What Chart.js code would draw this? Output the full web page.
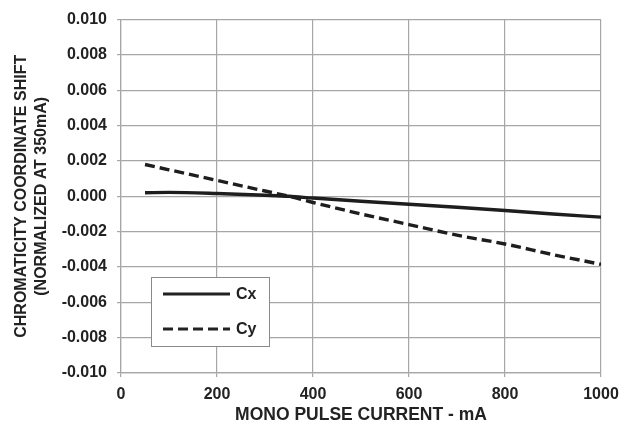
<!DOCTYPE html>
<html>
<head>
<meta charset="utf-8">
<script src="https://cdn.jsdelivr.net/npm/chart.js@4/dist/chart.umd.min.js"></script>
<style>
  html, body { margin: 0; padding: 0; background: #fff; }
  #wrap { width: 630px; height: 430px; }
</style>
</head>
<body>
<div id="wrap"><canvas id="chart" width="630" height="430"></canvas></div>
<script>
// values
var currents = [50, 100, 200, 300, 350, 400, 500, 600, 700, 800, 900, 1000];
var cxShift = [0.0002, 0.00022, 0.00016, 0.00006, 0.0, -0.0001, -0.00028, -0.00045, -0.00062, -0.0008, -0.001, -0.00118];
var cyShift = [0.0018, 0.0015, 0.0009, 0.0003, 0.0, -0.00035, -0.001, -0.0016, -0.0022, -0.0027, -0.0033, -0.00385];
var seriesNames = ['Cx', 'Cy'];

var FONT = '"Liberation Sans", Arial, sans-serif';

function points(ys) {
    var out = [];
    for (var i = 0; i < currents.length; i++) out.push({x: currents[i], y: ys[i]});
    return out;
}

// legend sits inside the plot, lower left
var legendBox = {
    id: 'legendBox',
    afterDatasetsDraw: function(chart) {
        var ctx = chart.ctx;
        var x0 = 151, y0 = 277, w = 118, h = 69;
        ctx.save();
        ctx.fillStyle = '#fff';
        ctx.fillRect(x0, y0, w, h);
        ctx.strokeStyle = '#8a8a8a';
        ctx.lineWidth = 1;
        ctx.strokeRect(x0 + 0.5, y0 + 0.5, w, h);
        ctx.font = 'bold 16px ' + FONT;
        ctx.textBaseline = 'middle';
        ctx.fillStyle = '#222';
        chart.data.datasets.forEach(function(ds, i) {
            var ly = y0 + 17 + i * 35;
            ctx.strokeStyle = '#222';
            ctx.lineWidth = 3.2;
            ctx.setLineDash(ds.borderDash || []);
            ctx.beginPath();
            ctx.moveTo(x0 + 12, ly);
            ctx.lineTo(x0 + 79, ly);
            ctx.stroke();
            ctx.setLineDash([]);
            ctx.fillText(ds.label, x0 + 85, ly + 1);
        });
        ctx.restore();
    }
};

var ctx = document.getElementById('chart');
var chart = new Chart(ctx, {
    type: 'line',
    data: {
        datasets: [{
            label: seriesNames[0],
            data: points(cxShift),
            borderColor: '#1e1e1e',
            borderWidth: 3.4,
            pointRadius: 0,
            cubicInterpolationMode: 'monotone'
        }, {
            label: seriesNames[1],
            data: points(cyShift),
            borderColor: '#1e1e1e',
            borderWidth: 3.4,
            borderDash: [10, 5],
            pointRadius: 0,
            cubicInterpolationMode: 'monotone'
        }]
    },
    options: {
        responsive: false,
        animation: false,
        layout: { padding: { top: 16, right: 29, left: 0, bottom: 0 } },
        plugins: { legend: { display: false }, tooltip: { enabled: false } },
        scales: {
            x: {
                type: 'linear',
                min: 0,
                max: 1000,
                ticks: {
                    stepSize: 200,
                    color: '#222',
                    padding: 8,
                    font: { family: FONT, size: 16, weight: 'bold' },
                    callback: function(v) { return String(v); }
                },
                grid: { color: '#a6a6a6', lineWidth: 1.2, tickLength: 4 },
                border: { color: '#a6a6a6', width: 1.2 },
                title: {
                    display: true,
                    text: 'MONO PULSE CURRENT - mA',
                    color: '#222',
                    padding: { top: 0, bottom: 4 },
                    font: { family: FONT, size: 17.5, weight: 'bold', lineHeight: 1.2 }
                },
                afterFit: function(scale) { scale.height = 57; }
            },
            y: {
                min: -0.01,
                max: 0.01,
                ticks: {
                    stepSize: 0.002,
                    color: '#222',
                    padding: 10,
                    font: { family: FONT, size: 16, weight: 'bold' },
                    callback: function(v) { return v.toFixed(3); }
                },
                grid: { color: '#a6a6a6', lineWidth: 1.2, tickLength: 4 },
                border: { color: '#a6a6a6', width: 1.2 },
                title: {
                    display: true,
                    text: ['CHROMATICITY COORDINATE SHIFT', '(NORMALIZED AT 350mA)'],
                    color: '#222',
                    padding: { top: 12, bottom: 0 },
                    font: { family: FONT, size: 16, weight: 'bold', lineHeight: 1.25 }
                },
                afterFit: function(scale) { scale.width = 121; }
            }
        }
    },
    plugins: [legendBox]
});
</script>
</body>
</html>
